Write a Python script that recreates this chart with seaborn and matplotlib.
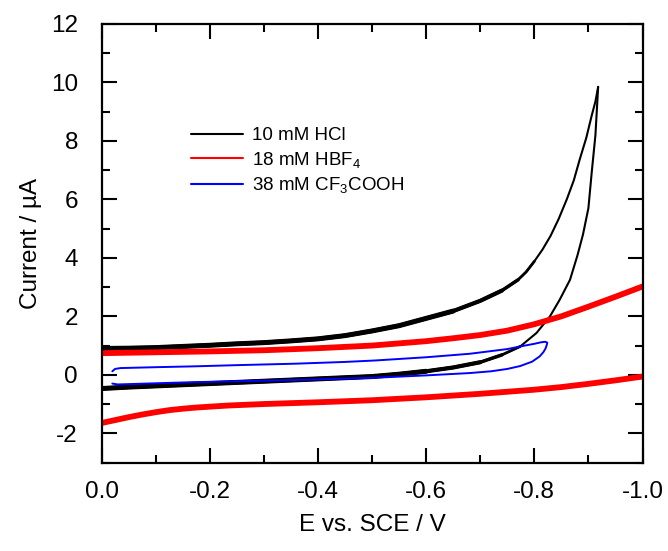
import matplotlib
matplotlib.use("Agg")
import matplotlib.pyplot as plt
from matplotlib.lines import Line2D
from matplotlib.ticker import MultipleLocator, FixedLocator
import pandas as pd
import seaborn as sns

# 10 mM HCl: cathodic sweep (upper branch) and return sweep (lower branch)
hcl_fwd_E = [0.0, -0.05, -0.1, -0.15, -0.2, -0.25, -0.3, -0.35, -0.4, -0.45,
             -0.5, -0.55, -0.6, -0.65, -0.7, -0.74, -0.77, -0.785, -0.80, -0.815,
             -0.83, -0.845, -0.86, -0.873, -0.884, -0.896, -0.906, -0.913, -0.918]
hcl_fwd_I = [0.90, 0.91, 0.93, 0.97, 1.01, 1.06, 1.10, 1.16, 1.23, 1.34,
             1.50, 1.68, 1.93, 2.18, 2.53, 2.88, 3.25, 3.52, 3.88, 4.28,
             4.75, 5.33, 6.00, 6.65, 7.37, 8.10, 8.86, 9.35, 9.85]
hcl_rev_E = [-0.918, -0.913, -0.906, -0.900, -0.890, -0.880, -0.866, -0.847, -0.829,
             -0.804, -0.774, -0.74, -0.70, -0.65, -0.60, -0.55, -0.50, -0.45,
             -0.40, -0.35, -0.30, -0.25, -0.20, -0.15, -0.10, -0.05, 0.0]
hcl_rev_I = [9.85, 8.20, 6.90, 5.70, 4.80, 4.10, 3.25, 2.57, 2.00,
             1.43, 0.97, 0.68, 0.43, 0.25, 0.12, 0.02, -0.06, -0.10,
             -0.14, -0.18, -0.22, -0.26, -0.30, -0.34, -0.38, -0.42, -0.47]

# 18 mM HBF4
hbf4_fwd_E = [0.0, -0.1, -0.2, -0.3, -0.4, -0.5, -0.6, -0.65, -0.7, -0.75,
              -0.8, -0.85, -0.9, -0.95, -1.0]
hbf4_fwd_I = [0.74, 0.77, 0.80, 0.84, 0.91, 1.00, 1.15, 1.25, 1.36, 1.51,
              1.73, 2.00, 2.33, 2.67, 3.02]
hbf4_rev_E = [-1.0, -0.95, -0.9, -0.85, -0.8, -0.75, -0.7, -0.6, -0.5, -0.4,
              -0.3, -0.235, -0.2, -0.175, -0.15, -0.125, -0.1, -0.075, -0.05,
              -0.025, 0.0]
hbf4_rev_I = [-0.06, -0.19, -0.31, -0.42, -0.51, -0.58, -0.65, -0.77, -0.87, -0.94,
              -1.00, -1.05, -1.09, -1.12, -1.16, -1.21, -1.28, -1.36, -1.45,
              -1.55, -1.65]

# 38 mM CF3COOH (single closed sweep)
tfa_E = [-0.020, -0.025, -0.035, -0.1, -0.173, -0.25, -0.358, -0.45, -0.506, -0.6,
         -0.681, -0.75, -0.774, -0.80, -0.812, -0.820, -0.824, -0.823, -0.821, -0.817,
         -0.810, -0.796, -0.774, -0.75, -0.72, -0.681, -0.6, -0.506, -0.358, -0.25,
         -0.173, -0.1, -0.03, -0.02]
tfa_I = [0.12, 0.20, 0.23, 0.26, 0.29, 0.33, 0.38, 0.44, 0.49, 0.60,
         0.72, 0.88, 0.97, 1.06, 1.11, 1.13, 1.10, 1.02, 0.91, 0.78,
         0.63, 0.45, 0.30, 0.20, 0.12, 0.06, -0.02, -0.10, -0.18, -0.22,
         -0.25, -0.29, -0.33, -0.30]

legend_labels = ["10 mM HCl", "18 mM HBF$_4$", "38 mM CF$_3$COOH"]
x_ticks = [0.0, -0.2, -0.4, -0.6, -0.8, -1.0]
x_tick_labels = ["0.0", "-0.2", "-0.4", "-0.6", "-0.8", "-1.0"]
y_ticks = [-2, 0, 2, 4, 6, 8, 10, 12]

sns.set_style("ticks")
plt.rcParams["font.family"] = ["Liberation Sans", "DejaVu Sans"]
plt.rcParams["mathtext.default"] = "regular"
plt.rcParams["axes.unicode_minus"] = False
plt.rcParams["text.color"] = "black"
plt.rcParams["axes.labelcolor"] = "black"

fig = plt.figure(figsize=(6.68, 5.51), dpi=100)
ax = fig.add_axes([101.5 / 668, 1 - 462.5 / 551, 541 / 668, 438.5 / 551])


def draw(E, I, color, lw, limit=None):
    df = pd.DataFrame({"E": E, "I": I})
    if limit is not None:
        df = df[df["E"] >= -limit]
    sns.lineplot(data=df, x="E", y="I", sort=False, estimator=None,
                 color=color, lw=lw, ax=ax, legend=False,
                 solid_joinstyle="round", solid_capstyle="round")


# HCl trace: dense data near the origin makes the line heavier there
for E, I, lims in [(hcl_fwd_E, hcl_fwd_I, [0.80, 0.77, 0.74, 0.65]),
                   (hcl_rev_E, hcl_rev_I, [0.774, 0.74, 0.70, 0.60])]:
    draw(E, I, "black", 1.5)
    for lw, lim in zip([2.0, 2.5, 3.0, 3.6], lims):
        draw(E, I, "black", lw, limit=lim)

draw(hbf4_fwd_E, hbf4_fwd_I, "#ff0000", 4.2)
draw(hbf4_rev_E, hbf4_rev_I, "#ff0000", 4.2)
draw(tfa_E, tfa_I, "#0000ff", 1.4)

ax.set_xlim(0, -1.0)
ax.set_ylim(-3, 12)
ax.xaxis.set_major_locator(FixedLocator(x_ticks))
ax.set_xticklabels(x_tick_labels)
ax.xaxis.set_minor_locator(MultipleLocator(0.1))
ax.yaxis.set_major_locator(FixedLocator(y_ticks))
ax.yaxis.set_minor_locator(MultipleLocator(1))

ax.tick_params(which="both", direction="in", top=True, right=True, width=1.5,
               labelsize=17.5, colors="black")
ax.tick_params(which="major", length=11)
ax.tick_params(which="minor", length=5.5)
ax.tick_params(axis="x", which="major", pad=13)
ax.tick_params(axis="y", which="major", pad=17)
for s in ax.spines.values():
    s.set_linewidth(1.6)
    s.set_color("black")

ax.set_xlabel("E vs. SCE / V", fontsize=17.5, labelpad=8)
ax.set_ylabel("Current / \u00b5A", fontsize=17.5, labelpad=6)

handles = [Line2D([], [], color=c, lw=1.5) for c in ["black", "#ff0000", "#0000ff"]]
ax.legend(handles, legend_labels, loc="upper left", bbox_to_anchor=(0.165, 0.765),
          frameon=False, fontsize=13.5, handlelength=2.8, handletextpad=0.45,
          labelspacing=0.3, borderpad=0, borderaxespad=0, labelcolor="black")

fig.savefig("out.png", dpi=100)
